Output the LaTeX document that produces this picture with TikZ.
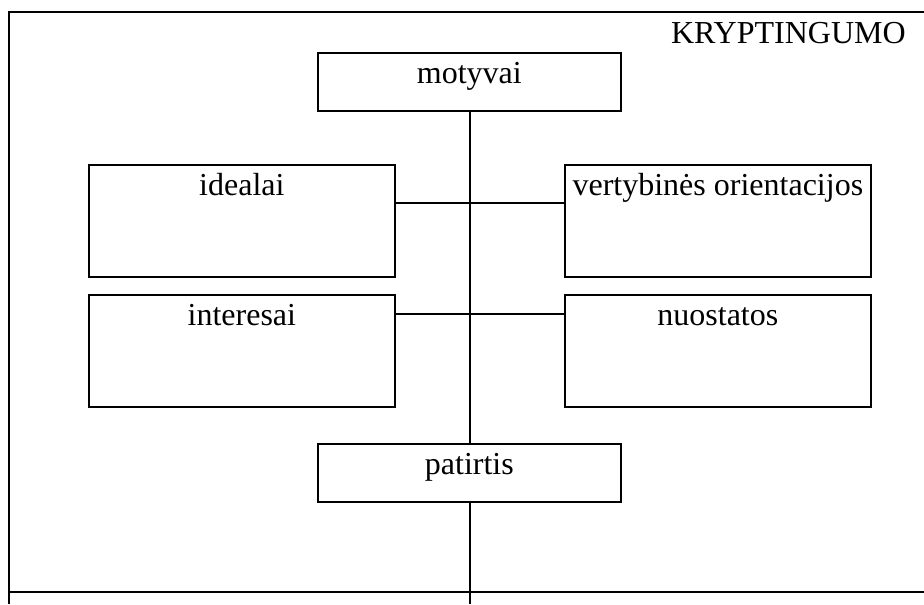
\documentclass[tikz,border=0pt]{standalone}
\usepackage{fontspec}
\setmainfont{Liberation Serif}
\usetikzlibrary{positioning}

\tikzset{
    box/.style={draw, line width=1.3pt, anchor=north west, minimum width=229.5pt, minimum height=84pt, inner sep=0pt},
    smallbox/.style={box, minimum width=227.25pt, minimum height=43.5pt},
    boxtext/.style={anchor=base, yshift=-23.5pt, inner sep=0pt, font=\fontsize{24}{28}\selectfont},
    link/.style={line width=1.3pt}
}

\begin{document}
\begin{tikzpicture}[x=0.75pt, y=-0.75pt]
    \useasboundingbox (0,0) rectangle (924,604);

    % frame
    \draw[link] (924,12) -- (9,12) -- (9,604);
    \draw[link] (9,592) -- (924,592);
    \node[anchor=base east, inner sep=0pt, font=\fontsize{24}{28}\selectfont] (title) at (906,43) {KRYPTINGUMO};

    % boxes
    \node[smallbox, label={[boxtext]north:motyvai}] (motyvai) at (317,52) {};
    \node[box, label={[boxtext]north:idealai}] (idealai) at (88,164) {};
    \node[box, label={[boxtext]north:vertybinės orientacijos}] (vertybes) at (564,164) {};
    \node[box, label={[boxtext]north:interesai}] (interesai) at (88,294) {};
    \node[box, label={[boxtext]north:nuostatos}] (nuostatos) at (564,294) {};
    \node[smallbox, label={[boxtext]north:patirtis}] (patirtis) at (317,443) {};

    % connectors
    \coordinate (upper) at (470,203);
    \coordinate (lower) at (470,314);
    \coordinate (bottom) at (470,604);
    \draw[link] (motyvai.south -| upper) -- (patirtis.north -| upper);
    \draw[link] (patirtis.south -| upper) -- (bottom);
    \draw[link] (idealai.east |- upper) -- (vertybes.west |- upper);
    \draw[link] (interesai.east |- lower) -- (nuostatos.west |- lower);
\end{tikzpicture}
\end{document}
